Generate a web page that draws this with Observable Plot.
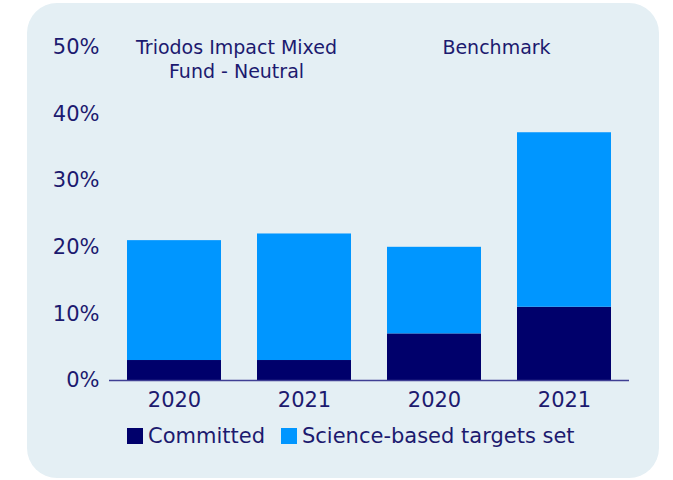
<!DOCTYPE html>
<html>
<head>
<meta charset="utf-8">
<script src="https://cdn.jsdelivr.net/npm/d3@7"></script>
<script src="https://cdn.jsdelivr.net/npm/@observablehq/plot@0.6"></script>
<style>
  html, body { margin: 0; padding: 0; background: #ffffff; }
  body { width: 673px; height: 480px; position: relative; overflow: hidden; font-family: "DejaVu Sans", sans-serif; }
  #card { position: absolute; left: 27px; top: 3px; width: 632px; height: 475px; border-radius: 30px; background: #e4eff4; }
  #chart { position: absolute; left: 0; top: 0; width: 673px; }
  #legend { position: absolute; left: 127px; top: 419px; }
  .lg-swatches { font-family: "DejaVu Sans", sans-serif !important; font-size: 21px !important; color: #1c1a6f !important; margin: 0 !important; }
  .lg-swatch { margin-right: 16px !important; }
  .lg-swatch > svg { margin-right: 5px !important; }
</style>
</head>
<body>
<div id="card"></div>
<div id="chart"></div>
<div id="legend"></div>
<script>
// Data
const groups = ["Triodos Impact Mixed\nFund - Neutral", "Benchmark"];
const years = ["2020", "2021"];
const series = ["Committed", "Science-based targets set"];
const colors = ["#00006b", "#0096ff"];
// order: [fund 2020, fund 2021, benchmark 2020, benchmark 2021]
const committed = [3, 3, 7, 11];
const sbtSet = [18, 19, 13, 26.2];
const yTicks = [0, 10, 20, 30, 40, 50];

const rows = [];
groups.forEach((g, gi) => {
  years.forEach((yr, yi) => {
    const k = gi * 2 + yi;
    rows.push({group: g, year: yr, series: series[0], value: committed[k]});
    rows.push({group: g, year: yr, series: series[1], value: sbtSet[k]});
  });
});

const textColor = "#1c1a6f";

const chart = Plot.plot({
  width: 673,
  height: 415,
  marginLeft: 109,
  marginRight: 44,
  marginTop: 47,
  marginBottom: 35,
  style: {fontFamily: "DejaVu Sans, sans-serif", fontSize: "21px", color: textColor, background: "transparent", overflow: "visible"},
  fx: {domain: groups, axis: null, padding: 0},
  x: {domain: years, paddingInner: 0.277, paddingOuter: 0.138, tickSize: 0, tickPadding: 12, label: null},
  y: {domain: [0, 50], ticks: yTicks, tickFormat: d => d + "%", tickSize: 0, tickPadding: 10, label: null},
  color: {domain: series, range: colors},
  marks: [
    Plot.barY(rows, {fx: "group", x: "year", y: "value", fill: "series", order: series}),
    Plot.ruleY([0], {stroke: "#3f3f93", strokeWidth: 1.5}),
    Plot.text(groups, {fx: d => d, text: d => d, frameAnchor: "top", lineAnchor: "top", dy: -11, dx: -3, fontSize: 19, lineHeight: 1.27, fill: textColor})
  ]
});
document.getElementById("chart").appendChild(chart);

const legend = Plot.legend({
  color: {domain: series, range: colors},
  legend: "swatches",
  swatchSize: 16,
  className: "lg"
});
document.getElementById("legend").appendChild(legend);
</script>
</body>
</html>
